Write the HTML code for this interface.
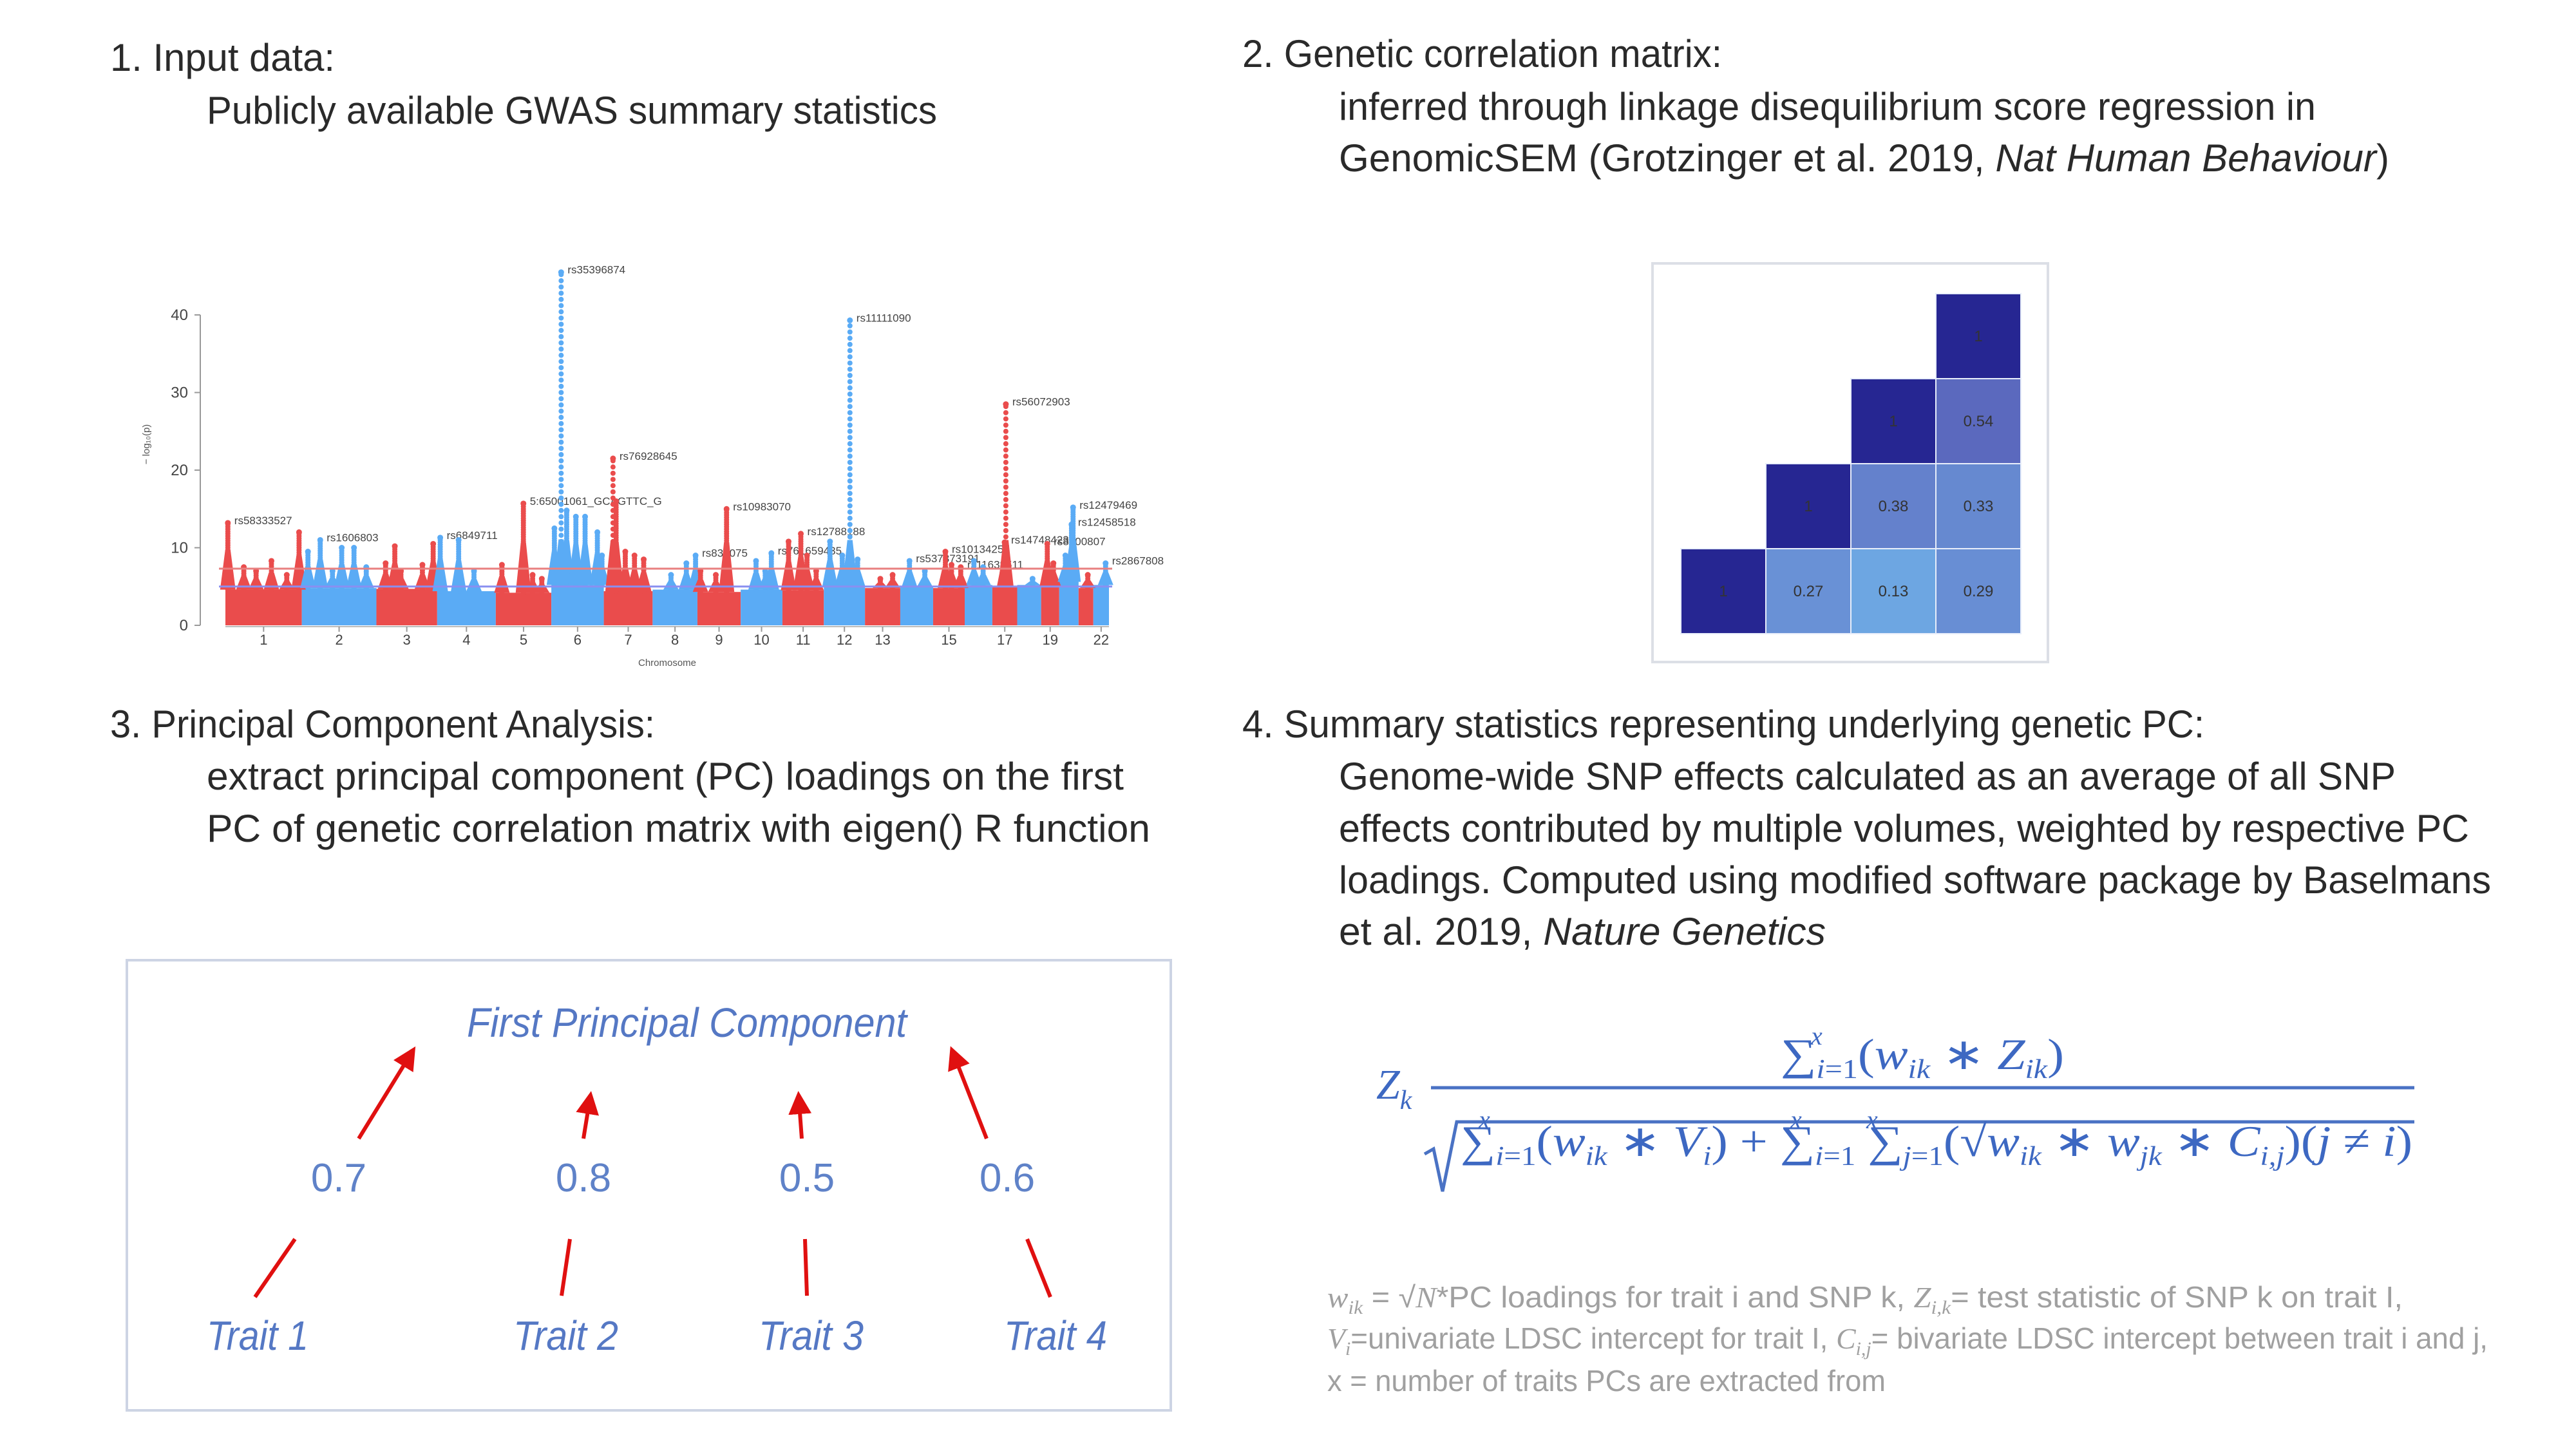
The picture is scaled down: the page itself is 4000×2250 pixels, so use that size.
<!DOCTYPE html>
<html><head><meta charset="utf-8">
<style>
html,body{margin:0;padding:0;background:#fff;}
svg{display:block;}
.t{font-family:"Liberation Sans",sans-serif;fill:#2a2a2a;}
.m{font-family:"Liberation Serif",serif;fill:#3d68c2;}
.f{font-family:"Liberation Sans",sans-serif;fill:#a0a0a0;}
</style></head>
<body>
<svg id="root" width="4000" height="2250" viewBox="0 0 4000 2250" xmlns="http://www.w3.org/2000/svg">
<rect width="4000" height="2250" fill="#fff"/>
<g>
<text class="t" x="171" y="110" font-size="60" textLength="349" lengthAdjust="spacingAndGlyphs">1. Input data:</text>
<text class="t" x="321" y="192" font-size="60" textLength="1134" lengthAdjust="spacingAndGlyphs">Publicly available GWAS summary statistics</text>
</g>
<g>
<text class="t" x="1929" y="104" font-size="60" textLength="745" lengthAdjust="spacingAndGlyphs">2. Genetic correlation matrix:</text>
<text class="t" x="2079" y="186" font-size="60" textLength="1517" lengthAdjust="spacingAndGlyphs">inferred through linkage disequilibrium score regression in</text>
<text class="t" x="2079" y="266" font-size="60" textLength="1631" lengthAdjust="spacingAndGlyphs">GenomicSEM (Grotzinger et al. 2019, <tspan font-style="italic">Nat Human Behaviour</tspan>)</text>
</g>
<g>
<text class="t" x="171" y="1145" font-size="60" textLength="846" lengthAdjust="spacingAndGlyphs">3. Principal Component Analysis:</text>
<text class="t" x="321" y="1226" font-size="60" textLength="1424" lengthAdjust="spacingAndGlyphs">extract principal component (PC) loadings on the first</text>
<text class="t" x="321" y="1307" font-size="60" textLength="1465" lengthAdjust="spacingAndGlyphs">PC of genetic correlation matrix with eigen() R function</text>
</g>
<g>
<text class="t" x="1929" y="1145" font-size="60" textLength="1494" lengthAdjust="spacingAndGlyphs">4. Summary statistics representing underlying genetic PC:</text>
<text class="t" x="2079" y="1226" font-size="60" textLength="1641" lengthAdjust="spacingAndGlyphs">Genome-wide SNP effects calculated as an average of all SNP</text>
<text class="t" x="2079" y="1307" font-size="60" textLength="1755" lengthAdjust="spacingAndGlyphs">effects contributed by multiple volumes, weighted by respective PC</text>
<text class="t" x="2079" y="1387" font-size="60" textLength="1789" lengthAdjust="spacingAndGlyphs">loadings. Computed using modified software package by Baselmans</text>
<text class="t" x="2079" y="1467" font-size="60" textLength="756" lengthAdjust="spacingAndGlyphs">et al. 2019, <tspan font-style="italic">Nature Genetics</tspan></text>
</g>

<g id="manhattan"></g>

<rect x="2566" y="409" width="614" height="619" fill="#fff" stroke="#dcdfe6" stroke-width="4"/>
<g id="heatmap"></g>

<g>
<rect x="197" y="1491" width="1621" height="699" fill="none" stroke="#cdd4e4" stroke-width="4"/>
<text x="725" y="1610" font-size="64" font-style="italic" fill="#5578c4" font-family="Liberation Sans, sans-serif" textLength="683" lengthAdjust="spacingAndGlyphs">First Principal Component</text>
<g font-family="Liberation Sans, sans-serif" font-size="62" fill="#5f82c8" text-anchor="middle">
<text x="526" y="1850">0.7</text>
<text x="906" y="1850">0.8</text>
<text x="1253" y="1850">0.5</text>
<text x="1564" y="1850">0.6</text>
</g>
<g font-family="Liberation Sans, sans-serif" font-size="64" font-style="italic" fill="#5578c4">
<text x="321" y="2096" textLength="158" lengthAdjust="spacingAndGlyphs">Trait 1</text>
<text x="797" y="2096" textLength="163" lengthAdjust="spacingAndGlyphs">Trait 2</text>
<text x="1178" y="2096" textLength="163" lengthAdjust="spacingAndGlyphs">Trait 3</text>
<text x="1559" y="2096" textLength="160" lengthAdjust="spacingAndGlyphs">Trait 4</text>
</g>
<defs><marker id="ah" markerWidth="6" markerHeight="6" refX="5" refY="3" orient="auto" markerUnits="strokeWidth"><path d="M0,0 L6,3 L0,6 z" fill="#e01010"/></marker></defs>
<g stroke="#e01010" stroke-width="6" fill="none">
<line x1="557" y1="1768" x2="642" y2="1630" marker-end="url(#ah)"/>
<line x1="906" y1="1768" x2="917" y2="1700" marker-end="url(#ah)"/>
<line x1="1245" y1="1768" x2="1240" y2="1700" marker-end="url(#ah)"/>
<line x1="1532" y1="1768" x2="1478" y2="1630" marker-end="url(#ah)"/>
<line x1="396" y1="2014" x2="458" y2="1924"/>
<line x1="872" y1="2012" x2="885" y2="1924"/>
<line x1="1253" y1="2012" x2="1250" y2="1924"/>
<line x1="1631" y1="2014" x2="1595" y2="1924"/>
</g>
</g>

<g>
<text class="m" x="2137" y="1706" font-size="66" font-style="italic">Z<tspan font-size="42" dy="16">k</tspan></text>
<line x1="2222" y1="1689" x2="3749" y2="1689" stroke="#4a72c4" stroke-width="5"/>
<text class="m" x="2812" y="1622" font-size="40" font-style="italic">x</text>
<text class="m" x="2765" y="1660" font-size="68" textLength="440" lengthAdjust="spacingAndGlyphs">∑<tspan font-size="42" dy="14" font-style="italic">i</tspan><tspan font-size="42">=1</tspan><tspan dy="-14">(</tspan><tspan font-style="italic">w</tspan><tspan font-size="42" dy="14" font-style="italic">ik</tspan><tspan dy="-14"> ∗ </tspan><tspan font-style="italic">Z</tspan><tspan font-size="42" dy="14" font-style="italic">ik</tspan><tspan dy="-14">)</tspan></text>
<path d="M2212,1792 L2226,1784 L2240,1850 L2262,1742 L3749,1742" fill="none" stroke="#4a72c4" stroke-width="5"/>
<text class="m" x="2296" y="1752" font-size="40" font-style="italic">x</text>
<text class="m" x="2780" y="1752" font-size="40" font-style="italic">x</text>
<text class="m" x="2898" y="1752" font-size="40" font-style="italic">x</text>
<text class="m" x="2268" y="1795" font-size="68" textLength="1478" lengthAdjust="spacingAndGlyphs">∑<tspan font-size="42" dy="14" font-style="italic">i</tspan><tspan font-size="42">=1</tspan><tspan dy="-14">(</tspan><tspan font-style="italic">w</tspan><tspan font-size="42" dy="14" font-style="italic">ik</tspan><tspan dy="-14"> ∗ </tspan><tspan font-style="italic">V</tspan><tspan font-size="42" dy="14" font-style="italic">i</tspan><tspan dy="-14">) + ∑</tspan><tspan font-size="42" dy="14" font-style="italic">i</tspan><tspan font-size="42">=1</tspan><tspan dy="-14"> ∑</tspan><tspan font-size="42" dy="14" font-style="italic">j</tspan><tspan font-size="42">=1</tspan><tspan dy="-14">(√</tspan><tspan font-style="italic">w</tspan><tspan font-size="42" dy="14" font-style="italic">ik</tspan><tspan dy="-14"> ∗ </tspan><tspan font-style="italic">w</tspan><tspan font-size="42" dy="14" font-style="italic">jk</tspan><tspan dy="-14"> ∗ </tspan><tspan font-style="italic">C</tspan><tspan font-size="42" dy="14" font-style="italic">i,j</tspan><tspan dy="-14">)(</tspan><tspan font-style="italic">j</tspan><tspan> ≠ </tspan><tspan font-style="italic">i</tspan><tspan>)</tspan></text>
</g>

<g>
<text class="f" x="2061" y="2030" font-size="46" textLength="1670" lengthAdjust="spacingAndGlyphs"><tspan font-family="Liberation Serif, serif" font-style="italic">w</tspan><tspan font-size="30" dy="10" font-family="Liberation Serif, serif" font-style="italic">ik</tspan><tspan dy="-10"> = √</tspan><tspan font-family="Liberation Serif, serif" font-style="italic">N</tspan><tspan>*PC loadings for trait i and SNP k, </tspan><tspan font-family="Liberation Serif, serif" font-style="italic">Z</tspan><tspan font-size="30" dy="10" font-family="Liberation Serif, serif" font-style="italic">i,k</tspan><tspan dy="-10">= test statistic of SNP k on trait I,</tspan></text>
<text class="f" x="2061" y="2094" font-size="46" textLength="1802" lengthAdjust="spacingAndGlyphs"><tspan font-family="Liberation Serif, serif" font-style="italic">V</tspan><tspan font-size="30" dy="10" font-family="Liberation Serif, serif" font-style="italic">i</tspan><tspan dy="-10">=univariate LDSC intercept for trait I, </tspan><tspan font-family="Liberation Serif, serif" font-style="italic">C</tspan><tspan font-size="30" dy="10" font-family="Liberation Serif, serif" font-style="italic">i,j</tspan><tspan dy="-10">= bivariate LDSC intercept between trait i and j,</tspan></text>
<text class="f" x="2061" y="2160" font-size="46" textLength="867" lengthAdjust="spacingAndGlyphs">x = number of traits PCs are extracted from</text>
</g>
</svg>

<script>
// ---------- Manhattan data ----------
const chrNames = ["1","2","3","4","5","6","7","8","9","10","11","12","13","14","15","16","17","18","19","20","21","22"];
const chrLengths = [249,243,198,191,181,171,159,146,141,136,135,134,115,107,103,90,81,78,59,63,48,51];
const chrBase = [4.6,4.8,4.7,4.4,4.2,5.2,4.4,4.6,4.3,4.6,4.5,5.0,4.8,5.0,4.8,5.2,5.0,5.2,5.0,5.6,4.8,5.2];
const tickLabels = ["1","2","3","4","5","6","7","8","9","10","11","12","13","15","17","19","22"];
const yTicks = [0,10,20,30,40];
const towerChr = [1,1,1,1,1,1,2,2,2,2,2,2,3,3,3,3,3,4,4,4,5,5,5,5,6,6,6,6,6,6,6,7,7,7,7,7,8,8,8,9,9,9,10,10,10,11,11,11,11,12,12,12,12,13,13,14,14,15,15,15,16,16,17,17,18,19,19,20,20,20,21,22];
const towerPos = [8,60,100,150,200,240,20,60,100,130,170,210,30,60,80,150,185,10,70,120,20,90,120,150,10,32,50,80,110,150,165,30,40,70,100,130,60,110,140,10,60,95,50,80,100,20,60,80,110,20,60,85,110,50,90,30,80,40,60,90,30,60,44,40,50,20,40,20,40,45,30,40];
const towerMax = [13.2,7.5,7,8.3,6.5,12,9.5,11,7,10,10,7.5,8,10.2,7,7.8,10.5,11.3,11,7,7.8,15.7,6.5,6,12.5,45.5,14.8,14,14,12,9,21.5,16,9.5,9,8.5,6.5,8,9,7,6.5,15,8.3,7,9.3,10.8,11.8,9,7,10.8,9,39.3,8.5,6,6.5,8.3,7,9.5,7.8,7.5,8.3,7.5,28.5,10.7,6,10.5,8,9,13,15.2,6.5,8];
const snpLabels = ["rs58333527","","","","","","","rs1606803","","","","","","","","","","rs6849711","","","","5:65001061_GCAGTTC_G","","","","rs35396874","","","","","","rs76928645","","","","","","","rs837075","","","rs10983070","","","rs761659435","","rs12788188","","","","","rs11111090","","","","rs537373191","","rs10134257","","rs11638511","","","rs56072903","rs147484236","","rs8100807","","","rs12458518","rs12479469","","rs2867808"];
const sigLines = [7.3,5];

// ---------- Heatmap data ----------
const corrRows = [
  [null,null,null,1],
  [null,null,1,0.54],
  [null,1,0.38,0.33],
  [1,0.27,0.13,0.29]
];
const corrLabels = [
  ["","","","1"],
  ["","","1","0.54"],
  ["","1","0.38","0.33"],
  ["1","0.27","0.13","0.29"]
];

const NS = "http://www.w3.org/2000/svg";
function mk(tag, attrs, parent){
  const e = document.createElementNS(NS, tag);
  for (const k in attrs) e.setAttribute(k, attrs[k]);
  parent.appendChild(e);
  return e;
}

const mg = document.getElementById("manhattan");
const X0 = 350, X1 = 1722, Y0 = 971, YPER = 482/40;
const cum = []; let total = 0;
chrLengths.forEach(l => { cum.push(total); total += l; });
const xs = (chrIdx, pos) => X0 + (cum[chrIdx] + pos) / total * (X1 - X0);
const ys = v => Y0 - v * YPER;
const colors = ["#ea4c4c", "#5aabf5"];

chrNames.forEach((c, i) => {
  const r = mk("rect", {x: xs(i,0), y: ys(chrBase[i]), width: xs(i,chrLengths[i]) - xs(i,0), height: Y0 - ys(chrBase[i]), fill: colors[i%2]}, mg);
  
  
});
towerChr.forEach((c, k) => {
  const i = c - 1;
  const g = mk("g", {fill: colors[i%2]}, mg);
  
  
  const x = xs(i, towerPos[k]);
  const top = towerMax[k];
  const step = top > 16 ? 0.8 : 0.3;
  for (let v = chrBase[i]; v <= top; v += step) {
    mk("circle", {cx: x, cy: ys(v), r: 4}, g);
  }
  mk("circle", {cx: x, cy: ys(top), r: 4.5}, g);
  // shoulder of the peak (neighbouring SNPs in LD)
  const sh = chrBase[i] + (Math.min(top, 15) - chrBase[i]) * 0.6;
  mk("path", {d: `M${x-12},${ys(chrBase[i])} L${x-4},${ys(sh)} L${x+4},${ys(sh)} L${x+12},${ys(chrBase[i])} Z`}, g);
  if (snpLabels[k]) {
    const t = mk("text", {x: x + 10, y: ys(top) + 2, "font-size": 17, fill: "#444", "font-family": "Liberation Sans, sans-serif"}, mg);
    t.textContent = snpLabels[k];
    
    
  }
});
sigLines.forEach((v, k) => {
  const l = mk("line", {x1: X0 - 10, x2: X1 + 5, y1: ys(v), y2: ys(v), stroke: k === 0 ? "#e88080" : "#8a8ff0", "stroke-width": 3}, mg);
  
  
});
const ya = mk("line", {x1: 311, x2: 311, y1: ys(40), y2: Y0, stroke: "#999", "stroke-width": 2}, mg);


yTicks.forEach(v => {
  mk("line", {x1: 302, x2: 311, y1: ys(v), y2: ys(v), stroke: "#999", "stroke-width": 2}, mg);
  const t = mk("text", {x: 292, y: ys(v) + 8, "font-size": 24, fill: "#444", "text-anchor": "end", "font-family": "Liberation Sans, sans-serif"}, mg);
  t.textContent = v;
  
  
});
const yt = mk("text", {x: 0, y: 0, "font-size": 15, fill: "#555", "text-anchor": "middle", transform: "translate(232,690) rotate(-90)", "font-family": "Liberation Sans, sans-serif"}, mg);
yt.textContent = "− log₁₀(p)";


const xa = mk("line", {x1: X0, x2: X1, y1: Y0 + 2, y2: Y0 + 2, stroke: "#bbb", "stroke-width": 2}, mg);


tickLabels.forEach(lbl => {
  const i = chrNames.indexOf(lbl);
  const x = xs(i, chrLengths[i] / 2);
  mk("line", {x1: x, x2: x, y1: Y0 + 2, y2: Y0 + 10, stroke: "#999", "stroke-width": 2}, mg);
  const t = mk("text", {x: x, y: Y0 + 30, "font-size": 22, fill: "#444", "text-anchor": "middle", "font-family": "Liberation Sans, sans-serif"}, mg);
  t.textContent = lbl;
  
  
});
const xt = mk("text", {x: 1036, y: 1034, "font-size": 15, fill: "#555", "text-anchor": "middle", "font-family": "Liberation Sans, sans-serif"}, mg);
xt.textContent = "Chromosome";



const hg = document.getElementById("heatmap");
const HX = 2610, HY = 456, CS = 132;
const stops = [[0.1,[110,170,229]],[0.3,[104,141,211]],[0.55,[90,104,189]],[1,[38,38,146]]];
function col(v){
  for (let s = 0; s < stops.length - 1; s++) {
    const a = stops[s], b = stops[s+1];
    if (v <= b[0]) {
      const t = Math.max(0, (v - a[0]) / (b[0] - a[0]));
      const c = a[1].map((x, j) => Math.round(x + (b[1][j] - x) * t));
      return "rgb(" + c.join(",") + ")";
    }
  }
  return "rgb(38,38,146)";
}
corrRows.forEach((row, r) => row.forEach((v, c) => {
  if (v === null) return;
  const cell = mk("rect", {x: HX + c*CS, y: HY + r*CS, width: CS, height: CS, fill: col(v), stroke: "#e8eefa", "stroke-width": 2}, hg);
  
  
  const t = mk("text", {x: HX + c*CS + CS/2, y: HY + r*CS + CS/2 + 8, "font-size": 24, fill: "#333", "text-anchor": "middle", "font-family": "Liberation Sans, sans-serif"}, hg);
  t.textContent = corrLabels[r][c];
  
  
}));
</script>
</body></html>
